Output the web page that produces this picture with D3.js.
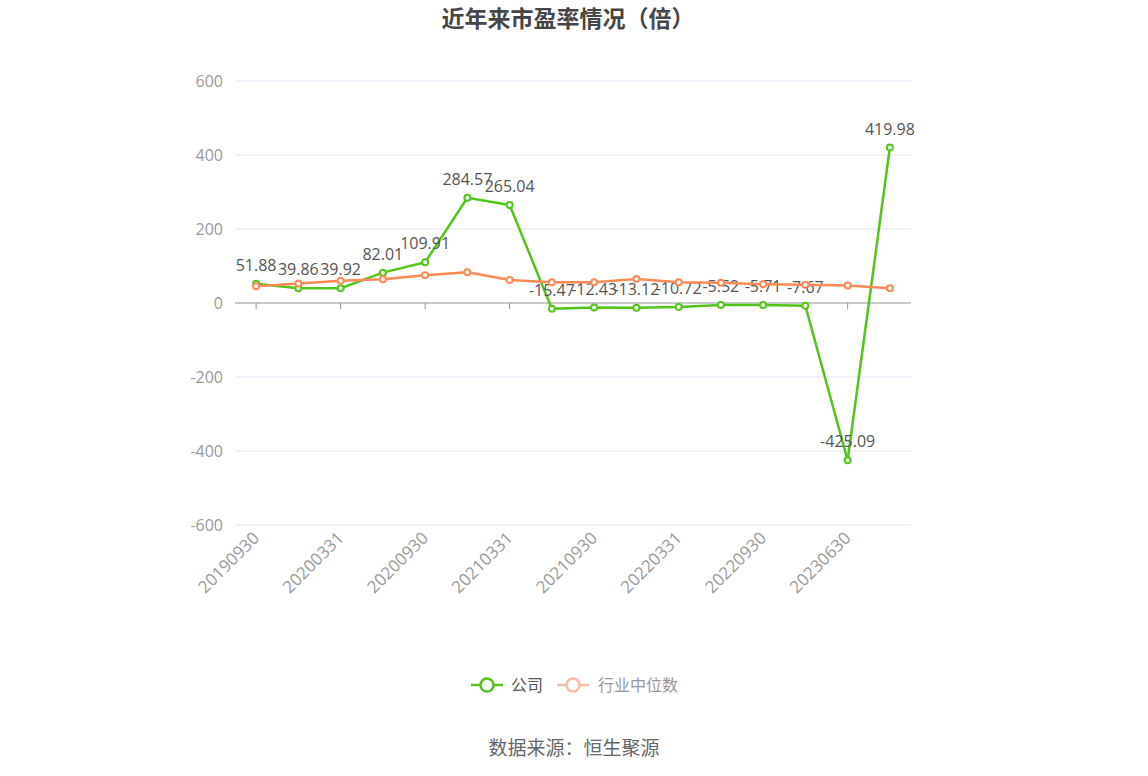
<!DOCTYPE html>
<html>
<head>
<meta charset="utf-8">
<script src="https://cdn.jsdelivr.net/npm/d3@7"></script>
<style>
  body { margin: 0; background: #fff; }
  svg text { font-family: "Open Sans", "Noto Sans CJK SC", sans-serif; }
  svg text.cjk { font-family: "Noto Sans CJK SC", sans-serif; }
</style>
</head>
<body>
<div id="chart"></div>
<script>
// quarter-end dates on the x axis
const dates = ['20190930', '20191231', '20200331', '20200630', '20200930', '20201231',
  '20210331', '20210630', '20210930', '20211231', '20220331', '20220630',
  '20220930', '20230331', '20230630', '20230930']
// company PE
const company = [51.88, 39.86, 39.92, 82.01, 109.91, 284.57, 265.04, -15.47,
  -12.43, -13.12, -10.72, -5.52, -5.71, -7.67, -425.09, 419.98]
// industry median PE
const industry = [45, 53, 60, 64, 75, 83, 62, 56, 56, 65, 56, 55, 51, 49, 47, 40]
const yTicks = [-600, -400, -200, 0, 200, 400, 600]

const w = 1148, h = 776
const padL = 235, padR = 911, padT = 81, padB = 525
const green = '#52c41a', orange = '#fd8a54'

const svg = d3.select('#chart').append('svg')
  .attr('width', w).attr('height', h)

// title
svg.append('text').attr('class', 'cjk')
  .attr('x', 568).attr('y', 27)
  .attr('text-anchor', 'middle')
  .style('font-size', '23px').style('font-weight', 'bold').style('fill', '#464646')
  .text('近年来市盈率情况（倍）')

const x = d3.scaleBand().domain(dates).range([padL, padR])
const y = d3.scaleLinear().domain([-600, 600]).range([padB, padT])
const cx = d => x(d) + x.bandwidth() / 2

// gridlines + y labels
svg.append('g').selectAll('line').data(yTicks.filter(t => t !== 0)).enter()
  .append('line')
  .attr('x1', padL).attr('x2', padR)
  .attr('y1', d => y(d)).attr('y2', d => y(d))
  .attr('stroke', '#e0e6f1').attr('stroke-width', 1)

svg.append('g').selectAll('text').data(yTicks).enter()
  .append('text')
  .attr('x', 223).attr('y', d => y(d))
  .attr('dy', '0.35em')
  .attr('text-anchor', 'end')
  .style('font-size', '16px').style('fill', '#999')
  .text(d => d)

// zero axis with ticks on labelled categories
svg.append('line')
  .attr('x1', padL).attr('x2', padR)
  .attr('y1', y(0)).attr('y2', y(0))
  .attr('stroke', '#8f949a').attr('stroke-width', 1)

const shown = dates.filter((d, i) => i % 2 === 0)
svg.append('g').selectAll('line').data(shown).enter()
  .append('line')
  .attr('x1', d => cx(d)).attr('x2', d => cx(d))
  .attr('y1', y(0)).attr('y2', y(0) + 6)
  .attr('stroke', '#8f949a')

svg.append('g').selectAll('text').data(shown).enter()
  .append('text')
  .attr('transform', d => `translate(${cx(d)},${padB + 10}) rotate(-45)`)
  .attr('text-anchor', 'end')
  .attr('dy', '0.35em')
  .style('font-size', '17px').style('fill', '#999')
  .text(d => d)

const line = d3.line().x((d, i) => cx(dates[i])).y(d => y(d))

function drawSeries(vals, color) {
  svg.append('path').datum(vals)
    .attr('d', line)
    .attr('fill', 'none').attr('stroke', color)
    .attr('stroke-width', 2.5).attr('stroke-linejoin', 'round')
  svg.append('g').selectAll('circle').data(vals).enter()
    .append('circle')
    .attr('cx', (d, i) => cx(dates[i])).attr('cy', d => y(d))
    .attr('r', 3).attr('fill', '#fff')
    .attr('stroke', color).attr('stroke-width', 2)
}

drawSeries(company, green)

// value labels for company
svg.append('g').selectAll('text').data(company).enter()
  .append('text')
  .attr('x', (d, i) => cx(dates[i])).attr('y', d => y(d) - 13)
  .attr('text-anchor', 'middle')
  .style('font-size', '16px').style('fill', '#555')
  .text(d => d.toFixed(2))

drawSeries(industry, orange)

// legend
const lg = svg.append('g')
lg.append('line').attr('x1', 471).attr('x2', 503).attr('y1', 685).attr('y2', 685)
  .attr('stroke', green).attr('stroke-width', 2.5)
lg.append('circle').attr('cx', 487).attr('cy', 685).attr('r', 6.5)
  .attr('fill', '#fff').attr('stroke', green).attr('stroke-width', 2.5)
lg.append('text').attr('class', 'cjk').attr('x', 511).attr('y', 685).attr('dy', '0.35em')
  .style('font-size', '16px').style('fill', '#555').text('公司')

lg.append('line').attr('x1', 557).attr('x2', 589).attr('y1', 685).attr('y2', 685)
  .attr('stroke', '#fcbca6').attr('stroke-width', 2.5)
lg.append('circle').attr('cx', 573).attr('cy', 685).attr('r', 6.5)
  .attr('fill', '#fff').attr('stroke', '#fcbca6').attr('stroke-width', 2.5)
lg.append('text').attr('class', 'cjk').attr('x', 598).attr('y', 685).attr('dy', '0.35em')
  .style('font-size', '16px').style('fill', '#999').text('行业中位数')

// source
svg.append('text').attr('class', 'cjk')
  .attr('x', 574).attr('y', 748).attr('dy', '0.35em')
  .attr('text-anchor', 'middle')
  .style('font-size', '19px').style('fill', '#666')
  .text('数据来源：恒生聚源')
</script>
</body>
</html>
